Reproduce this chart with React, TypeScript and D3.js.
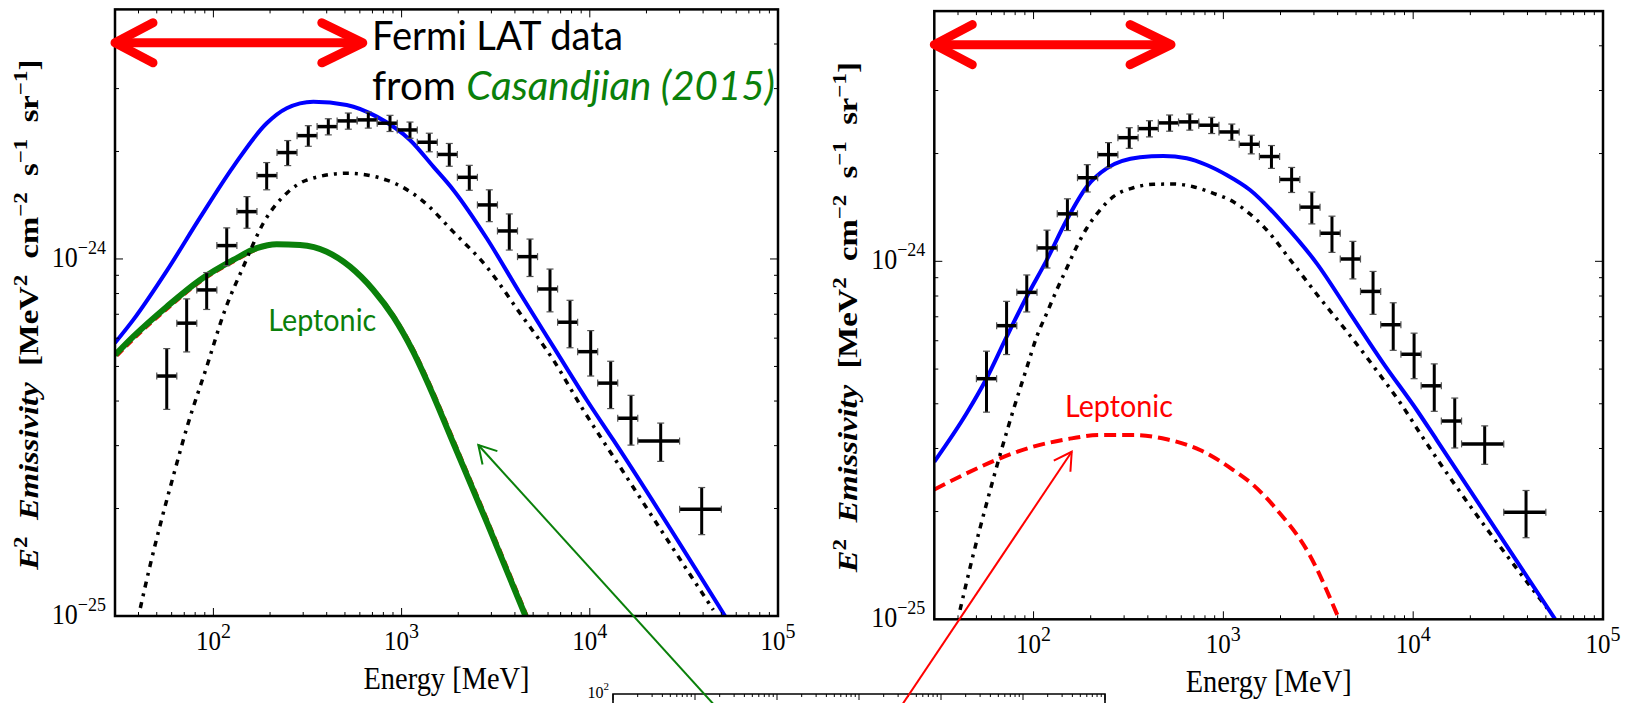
import React from 'react';
import * as d3 from 'd3';

type Pt = [number, number];

// Fermi-LAT emissivity of local gas, Casandjian (2015): bin centres, bin edges [MeV], E^2 emissivity and 1-sigma errors
const energy = [56.5, 72.1, 92.1, 117.7, 150.8, 191.9, 248.2, 319.3, 407.9, 521, 665.3, 867.7, 1108, 1403, 1792, 2289, 2924, 3734, 4811, 6145, 7849, 10110, 12912, 16555, 23806, 39314];
const binEdges = [50, 63.9, 81.6, 104.3, 133.3, 170.4, 217.7, 278.2, 355.5, 454.3, 580.6, 741.9, 948.1, 1211.6, 1548.3, 1978.6, 2528.5, 3231, 4129, 5277, 6743, 8617, 11012, 14072, 17983, 30000, 50000];
const emissivity = [4.70e-25, 6.61e-25, 8.19e-25, 1.090e-24, 1.357e-24, 1.712e-24, 1.986e-24, 2.215e-24, 2.348e-24, 2.436e-24, 2.452e-24, 2.400e-24, 2.298e-24, 2.123e-24, 1.962e-24, 1.693e-24, 1.417e-24, 1.198e-24, 1.015e-24, 8.24e-25, 6.65e-25, 5.50e-25, 4.49e-25, 3.58e-25, 3.09e-25, 1.99e-25];
const emissivityErr = [0.91e-25, 1.12e-25, 0.97e-25, 1.32e-25, 1.38e-25, 1.50e-25, 1.60e-25, 1.47e-25, 1.22e-25, 1.27e-25, 1.27e-25, 1.25e-25, 1.20e-25, 1.27e-25, 1.44e-25, 1.36e-25, 1.45e-25, 1.39e-25, 1.22e-25, 1.13e-25, 1.01e-25, 0.80e-25, 0.68e-25, 0.57e-25, 0.38e-25, 0.30e-25];

// Model A (left): total, pion-decay and leptonic components [E (MeV), E^2 emissivity]
const totalA: Pt[] = [[30, 5.82e-25], [37.5, 6.75e-25], [56.5, 9.26e-25], [84.9, 1.305e-24], [127.6, 1.814e-24], [191.9, 2.399e-24], [245.2, 2.643e-24], [339.6, 2.758e-24], [510.8, 2.70e-24], [737.4, 2.504e-24], [1108, 2.154e-24], [1474, 1.814e-24], [1883, 1.561e-24], [2833, 1.143e-24], [4257, 8.015e-25], [6398, 5.68e-25], [9630, 4.027e-25], [13333, 3.112e-25], [52300, 1.0e-25]];
const pionA: Pt[] = [[40.9, 1.053e-25], [46.0, 1.38e-25], [53.3, 1.881e-25], [62.5, 2.565e-25], [72.7, 3.405e-25], [92.1, 4.989e-25], [115.2, 7.194e-25], [144.1, 9.506e-25], [184.1, 1.259e-24], [250, 1.542e-24], [313.1, 1.663e-24], [510.8, 1.738e-24], [833.3, 1.663e-24], [1279, 1.462e-24], [1883, 1.191e-24], [2832, 9.506e-25], [4257, 7.047e-25], [6397, 5.212e-25], [9235, 3.776e-25], [14466, 2.618e-25], [26680, 1.592e-25], [45310, 1.04e-25]];
const leptonA: Pt[] = [[30, 5.383e-25], [37.5, 6.059e-25], [56.5, 7.35e-25], [84.9, 8.735e-25], [127.6, 9.936e-25], [169.8, 1.072e-24], [216.9, 1.1e-24], [288.5, 1.094e-24], [399.9, 1.048e-24], [531.8, 9.515e-25], [707.4, 8.188e-25], [903.3, 6.892e-25], [1154, 5.49e-25], [1416, 4.352e-25], [1883, 3.051e-25], [2832, 1.834e-25], [4553, 1.0e-25]];

// Model B (right)
const totalB: Pt[] = [[30, 2.754e-25], [44.4, 3.762e-25], [56.7, 4.721e-25], [72.2, 6.157e-25], [92.0, 7.963e-25], [117.3, 1.008e-24], [149.5, 1.304e-24], [190.6, 1.616e-24], [242.9, 1.819e-24], [363.9, 1.952e-24], [482.7, 1.968e-24], [641.1, 1.94e-24], [817.2, 1.858e-24], [1041, 1.742e-24], [1382, 1.582e-24], [2070, 1.277e-24], [3103, 9.87e-25], [4648, 7.156e-25], [6962, 5.189e-25], [10440, 3.843e-25], [13310, 3.168e-25], [56030, 1.0e-25]];
const pionB: Pt[] = [[41.0, 1.062e-25], [48.0, 1.508e-25], [56.7, 2.117e-25], [66.6, 2.881e-25], [78.2, 3.839e-25], [92.0, 5.035e-25], [103.9, 6.157e-25], [117.3, 7.156e-25], [132.4, 8.313e-25], [149.5, 9.559e-25], [168.8, 1.099e-24], [190.6, 1.237e-24], [223.9, 1.391e-24], [263.2, 1.515e-24], [335.5, 1.605e-24], [427.6, 1.641e-24], [544.9, 1.644e-24], [694.6, 1.616e-24], [885.2, 1.549e-24], [1128, 1.467e-24], [1382, 1.356e-24], [1692, 1.223e-24], [2291, 9.975e-25], [3229, 7.882e-25], [4553, 6.293e-25], [6295, 5.024e-25], [8705, 3.969e-25], [11310, 3.203e-25], [50850, 1.073e-25]];
const leptonB: Pt[] = [[30, 2.305e-25], [44.4, 2.557e-25], [66.6, 2.817e-25], [99.7, 3.036e-25], [149.5, 3.183e-25], [223.9, 3.272e-25], [335.5, 3.272e-25], [502.9, 3.183e-25], [753.4, 2.972e-25], [1128, 2.612e-25], [1438, 2.372e-25], [1918, 2.02e-25], [2816, 1.529e-25], [4019, 1.017e-25]];

const energyDomain: Pt = [30, 1e5];
const emissivityDomain: Pt = [1e-25, 5e-24];
const xTickValues = [1e2, 1e3, 1e4, 1e5];
const yTickValues = [1e-25, 1e-24];

const SERIF = "'Liberation Serif', 'Times New Roman', serif";
const SANS = "Lato, 'Open Sans', sans-serif";
const GREEN = '#0a800a';

const isDecade = (v: number) => Math.abs(Math.log10(v) - Math.round(Math.log10(v))) < 1e-6;
const expText = (v: number) => {
  const e = Math.round(Math.log10(v));
  return e < 0 ? '\u2212' + Math.abs(e) : String(e);
};

function arrowHead(tip: Pt, tail: Pt, len: number, spreadDeg: number): string {
  const a = Math.atan2(tail[1] - tip[1], tail[0] - tip[0]);
  const s = (spreadDeg * Math.PI) / 180;
  const p1: Pt = [tip[0] + len * Math.cos(a - s), tip[1] + len * Math.sin(a - s)];
  const p2: Pt = [tip[0] + len * Math.cos(a + s), tip[1] + len * Math.sin(a + s)];
  return `M${p1[0]},${p1[1]}L${tip[0]},${tip[1]}L${p2[0]},${p2[1]}`;
}

interface PanelProps {
  id: string;
  xRange: Pt;
  yRange: Pt;
  total: Pt[];
  pion: Pt[];
  lepton: Pt[];
  mode: 'A' | 'B';
  spanEnd: number;
  labelAt: Pt;
  pointerTip: Pt;
  pointerTail: Pt;
}

function Panel({ id, xRange, yRange, total, pion, lepton, mode, spanEnd, labelAt, pointerTip, pointerTail }: PanelProps) {
  const x = d3.scaleLog().domain(energyDomain).range(xRange);
  const y = d3.scaleLog().domain(emissivityDomain).range(yRange);
  const line = d3
    .line<Pt>()
    .x((d) => x(d[0]))
    .y((d) => y(d[1]))
    .curve(d3.curveMonotoneX);

  const [x0, x1] = xRange;
  const [y0, y1] = yRange;
  const xt = x.ticks();
  const yt = y.ticks();
  const major = 8;
  const minor = 4;

  const spanY = y(4.03e-24);
  const sx0 = x(30);
  const sx1 = x(spanEnd);

  const tip: Pt = [x(pointerTip[0]), y(pointerTip[1])];
  const tail: Pt = [x(pointerTail[0]), y(pointerTail[1])];
  const pointerColor = mode === 'A' ? GREEN : '#ff0000';

  return (
    <g>
      <defs>
        <clipPath id={id}>
          <rect x={x0} y={y1} width={x1 - x0} height={y0 - y1} />
        </clipPath>
      </defs>

      <g clipPath={`url(#${id})`} fill="none">
        {mode === 'A' && (
          <path d={line(lepton) ?? ''} stroke="#ff0000" strokeWidth={2.5} strokeDasharray="8 5" transform="translate(2.5,1)" />
        )}
        {mode === 'A' ? (
          <path d={line(lepton) ?? ''} stroke={GREEN} strokeWidth={6} />
        ) : (
          <path d={line(lepton) ?? ''} stroke="#ff0000" strokeWidth={4} strokeDasharray="12 6" />
        )}
        <path d={line(pion) ?? ''} stroke="#000" strokeWidth={3.5} strokeDasharray="6 6 3 6" />
        <path d={line(total) ?? ''} stroke="#0000ff" strokeWidth={4} />
      </g>

      {/* data points with error bars */}
      <g>
        {energy.map((e, i) => {
          const cx = x(e);
          const cy = y(emissivity[i]);
          const xl = x(binEdges[i]);
          const xh = x(binEdges[i + 1]);
          const yl = y(emissivity[i] - emissivityErr[i]);
          const yh = y(emissivity[i] + emissivityErr[i]);
          return (
            <g key={i}>
              <line x1={xl} x2={xh} y1={cy} y2={cy} stroke="#000" strokeWidth={3.5} />
              <line x1={cx} x2={cx} y1={yl} y2={yh} stroke="#000" strokeWidth={3} />
              <line x1={cx - 3.5} x2={cx + 3.5} y1={yl} y2={yl} stroke="#555" strokeWidth={1.2} />
              <line x1={cx - 3.5} x2={cx + 3.5} y1={yh} y2={yh} stroke="#555" strokeWidth={1.2} />
              <line x1={xl} x2={xl} y1={cy - 3.5} y2={cy + 3.5} stroke="#555" strokeWidth={1.2} />
              <line x1={xh} x2={xh} y1={cy - 3.5} y2={cy + 3.5} stroke="#555" strokeWidth={1.2} />
            </g>
          );
        })}
      </g>

      {/* ticks on all four sides, pointing inward */}
      <g stroke="#000" strokeWidth={1}>
        {xt.map((t, i) => {
          const L = isDecade(t) ? major : minor;
          const px = x(t);
          return (
            <g key={'x' + i}>
              <line x1={px} x2={px} y1={y0} y2={y0 - L} />
              <line x1={px} x2={px} y1={y1} y2={y1 + L} />
            </g>
          );
        })}
        {yt.map((t, i) => {
          const L = isDecade(t) ? major : minor;
          const py = y(t);
          return (
            <g key={'y' + i}>
              <line x1={x0} x2={x0 + L} y1={py} y2={py} />
              <line x1={x1} x2={x1 - L} y1={py} y2={py} />
            </g>
          );
        })}
      </g>
      <rect x={x0} y={y1} width={x1 - x0} height={y0 - y1} fill="none" stroke="#000" strokeWidth={2.5} />

      {/* tick labels */}
      <g fontFamily={SERIF} fill="#000">
        {xTickValues.map((t) => (
          <g key={'xl' + t} transform={`translate(${x(t)},${y0 + 34}) scale(1,1.1)`}>
            <text x={0} y={0} textAnchor="middle" fontSize={25}>
              10<tspan dy={-11} fontSize={20}>{expText(t)}</tspan>
            </text>
          </g>
        ))}
        {yTickValues.map((t) => (
          <g key={'yl' + t} transform={`translate(${x0 - 9},${y(t) + 8}) scale(1,1.1)`}>
            <text x={0} y={0} textAnchor="end" fontSize={26}>
              10<tspan dy={-12} fontSize={18}>{expText(t)}</tspan>
            </text>
          </g>
        ))}
      </g>

      {/* axis titles */}
      <g transform={`translate(${(x0 + x1) / 2},${y0 + 72.5}) scale(1,1.12)`}>
        <text x={0} y={0} textAnchor="middle" fontFamily={SERIF} fontSize={28} textLength={166} lengthAdjust="spacingAndGlyphs">
          Energy [MeV]
        </text>
      </g>
      <text
        transform={`translate(${x0 - 86},${(y0 + y1) / 2 + 2}) rotate(-90)`}
        textAnchor="middle"
        dominantBaseline="central"
        fontFamily={SERIF}
        fontSize={27}
        fontWeight="bold"
        textLength={510}
        lengthAdjust="spacingAndGlyphs"
        style={{ whiteSpace: 'pre' }}
      >
        <tspan fontStyle="italic">E</tspan>
        <tspan fontSize={19} dy={-9}>2</tspan>
        <tspan dy={9} fontStyle="italic">{'  Emissivity  '}</tspan>
        <tspan>[MeV</tspan>
        <tspan fontSize={19} dy={-9}>2</tspan>
        <tspan dy={9}>{'  cm'}</tspan>
        <tspan fontSize={19} dy={-9}>{'\u22122'}</tspan>
        <tspan dy={9}>{'  s'}</tspan>
        <tspan fontSize={19} dy={-9}>{'\u22121'}</tspan>
        <tspan dy={9}>{'  sr'}</tspan>
        <tspan fontSize={19} dy={-9}>{'\u22121'}</tspan>
        <tspan dy={9}>]</tspan>
      </text>

      {/* energy span of the Fermi LAT data */}
      <g stroke="#ff0000" strokeWidth={9} strokeLinecap="round" strokeLinejoin="round" fill="none">
        <line x1={sx0 + 4} x2={sx1 - 4} y1={spanY} y2={spanY} />
        <path d={`M${sx0 + 38},${spanY - 20}L${sx0},${spanY}L${sx0 + 38},${spanY + 20}`} />
        <path d={`M${sx1 - 41},${spanY - 20}L${sx1},${spanY}L${sx1 - 41},${spanY + 20}`} />
      </g>

      {/* leptonic label and pointer */}
      <text
        x={x(labelAt[0])}
        y={y(labelAt[1])}
        fontFamily={SANS}
        fontSize={31}
        fill={mode === 'A' ? GREEN : '#ff0000'}
        textLength={108}
        lengthAdjust="spacingAndGlyphs"
      >
        Leptonic
      </text>
      <g stroke={pointerColor} strokeWidth={2} fill="none">
        <line x1={tip[0]} y1={tip[1]} x2={tail[0]} y2={tail[1]} />
        <path d={arrowHead(tip, tail, 20, 30)} />
      </g>
    </g>
  );
}

function Inset() {
  const x = d3.scaleLog().domain([1, 1e6]).range([613, 1105]);
  const top = 694;
  return (
    <g>
      <g stroke="#000" strokeWidth={1}>
        {x.ticks().map((t, i) => (
          <line key={i} x1={x(t)} x2={x(t)} y1={top} y2={top + (isDecade(t) ? 6 : 3)} />
        ))}
      </g>
      <path d={`M613,710L613,${top}L1105,${top}L1105,710`} fill="none" stroke="#000" strokeWidth={1.6} />
      <text x={609} y={top + 4} textAnchor="end" fontFamily={SERIF} fontSize={16}>
        10<tspan dy={-8} fontSize={11}>2</tspan>
      </text>
    </g>
  );
}

export default function App() {
  return (
    <svg
      width={1631}
      height={703}
      viewBox="0 0 1631 703"
      style={{ position: 'absolute', left: 0, top: 0, background: '#fff' }}
    >
      <rect width={1631} height={703} fill="#fff" />
      <Inset />
      <Panel
        id="clipA"
        xRange={[115, 778]}
        yRange={[616, 9.4]}
        total={totalA}
        pion={pionA}
        lepton={leptonA}
        mode="A"
        spanEnd={622}
        labelAt={[195.7, 6.3e-25]}
        pointerTip={[2556, 3.013e-25]}
        pointerTail={[59100, 4.86e-26]}
      />
      <Panel
        id="clipB"
        xRange={[934.3, 1603]}
        yRange={[619.3, 11.1]}
        total={totalB}
        pion={pionB}
        lepton={leptonB}
        mode="B"
        spanEnd={530}
        labelAt={[146.4, 3.666e-25]}
        pointerTip={[158.9, 2.938e-25]}
        pointerTail={[17.5, 5.13e-26]}
      />
      <text x={372} y={50} fontFamily={SANS} fontSize={41} fill="#000" textLength={251} lengthAdjust="spacingAndGlyphs">
        Fermi LAT data
      </text>
      <text x={372} y={100} fontFamily={SANS} fontSize={41} fill="#000" textLength={403} lengthAdjust="spacingAndGlyphs" style={{ whiteSpace: 'pre' }}>
        {'from '}
        <tspan fill={GREEN} fontStyle="italic">Casandjian (2015)</tspan>
      </text>
    </svg>
  );
}
